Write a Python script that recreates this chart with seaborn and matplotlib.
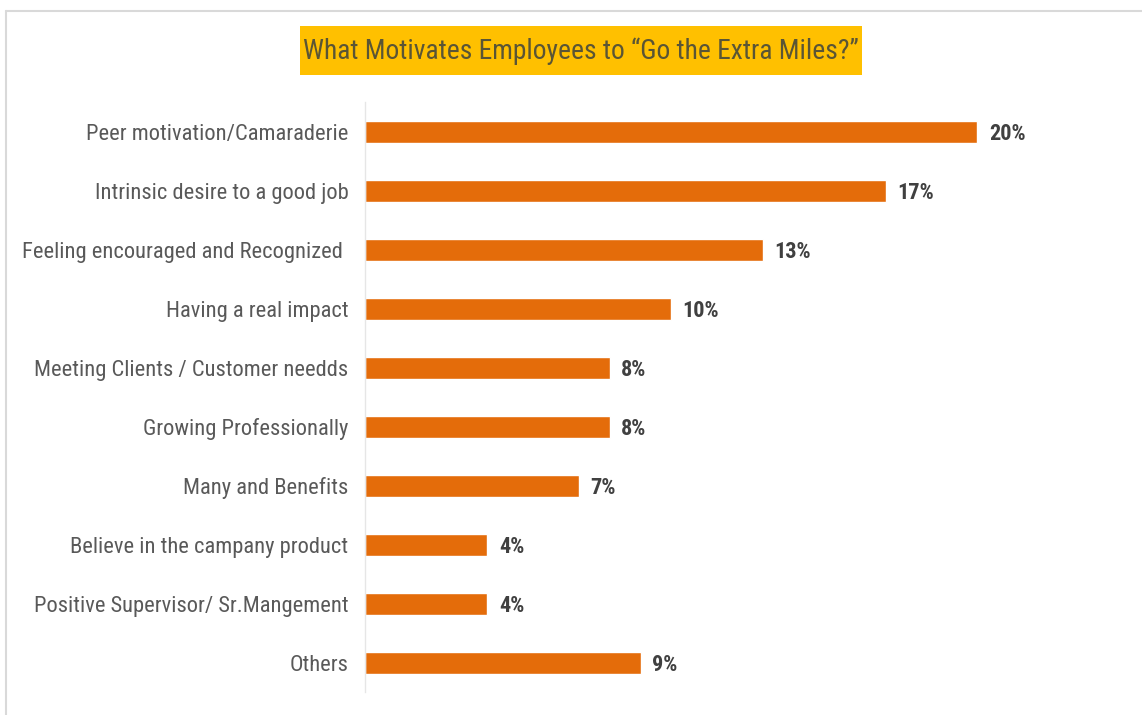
import matplotlib
matplotlib.use("Agg")
import matplotlib.pyplot as plt
from matplotlib.lines import Line2D
from matplotlib.patches import Rectangle
from matplotlib import font_manager
import seaborn as sns
import pandas as pd

categories = [
    "Peer motivation/Camaraderie",
    "Intrinsic desire to a good job",
    "Feeling encouraged and Recognized ",
    "Having a real impact",
    "Meeting Clients / Customer needds",
    "Growing Professionally",
    "Many and Benefits",
    "Believe in the campany product",
    "Positive Supervisor/ Sr.Mangement",
    "Others",
]
values = [20, 17, 13, 10, 8, 8, 7, 4, 4, 9]
title = "What Motivates Employees to \u201cGo the Extra Miles?\u201d"

df = pd.DataFrame({"reason": categories, "share": values})

sns.set_theme(style="white")

# prefer a narrow face for the labels
fonts = font_manager.fontManager.ttflist
names = {f.name for f in fonts}
stretch = "normal"
family = None
for cand in ["Liberation Sans Narrow", "Roboto Condensed", "Open Sans Condensed",
             "DejaVu Sans Condensed"]:
    if cand in names:
        family = cand
        break
if family is None:
    if any(f.name == "DejaVu Sans" and f.stretch == "condensed" for f in fonts):
        family, stretch = "DejaVu Sans", "condensed"
    else:
        family = "Liberation Sans"
plt.rcParams["font.family"] = [family, "DejaVu Sans"]
plt.rcParams["font.stretch"] = stretch

W, H = 1142, 715
fig = plt.figure(figsize=(W / 100, H / 100), dpi=100)
ax = fig.add_axes([365 / W, 0.0315, 0.6436, 0.8252])

sns.barplot(data=df, x="share", y="reason", orient="h", color="#E46C0A",
            width=0.36, saturation=1, ax=ax)

ax.set_xlim(0, 24.0)
ax.set_ylim(9.5, -0.5)
ax.set_xlabel("")
ax.set_ylabel("")
ax.set_xticks([])
ax.tick_params(axis="y", length=0, pad=12, labelsize=16.2, labelcolor="#595959")
for s in ["top", "right", "bottom"]:
    ax.spines[s].set_visible(False)
ax.spines["left"].set_color("#e6e6e6")
ax.spines["left"].set_linewidth(1)

for i, v in enumerate(values):
    ax.text(v + 0.37, i, f"{v}%", va="center_baseline", ha="left", fontsize=16,
            fontweight="bold", color="#404040")

# title on a yellow band
fig.add_artist(Rectangle((300 / W, 1 - 75 / H), 562 / W, 49 / H,
                         transform=fig.transFigure, facecolor="#FFC000",
                         edgecolor="none"))
fig.text(581 / W, 1 - 51 / H, title, ha="center", va="center", fontsize=19.8,
         color="#5a5535")

# thin frame along the top and left edges
fig.add_artist(Line2D([6 / W, 1.0], [1 - 11 / H, 1 - 11 / H],
                      transform=fig.transFigure, color="#d9d9d9", lw=1.5))
fig.add_artist(Line2D([6 / W, 6 / W], [0.0, 1 - 11 / H],
                      transform=fig.transFigure, color="#d9d9d9", lw=1.5))

fig.savefig("out.png", dpi=100, facecolor="white")
